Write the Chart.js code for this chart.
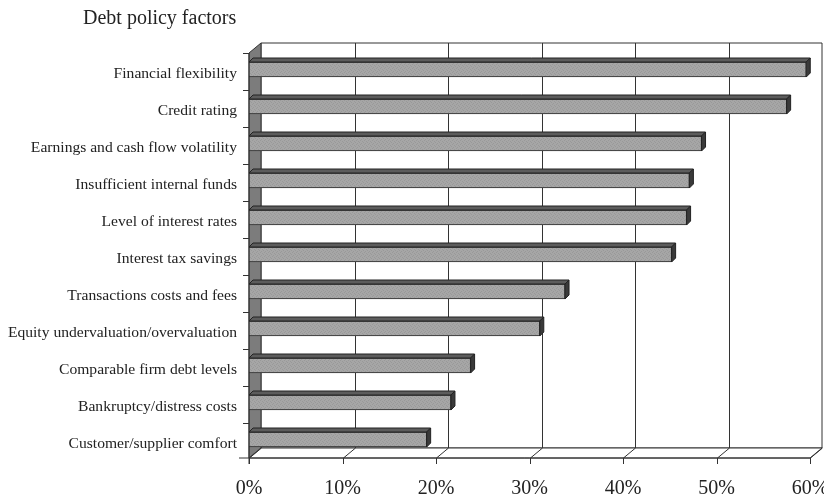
<!DOCTYPE html>
<html>
<head>
<meta charset="utf-8">
<script src="https://cdn.jsdelivr.net/npm/chart.js@4"></script>
<style>
	html, body { margin: 0; padding: 0; background: #fff; }
	#wrap { position: relative; width: 824px; height: 496px; }
	#title {
		position: absolute; left: 83px; top: 6px;
		font-family: "Liberation Serif", serif; font-size: 20px; color: #222;
	}
</style>
</head>
<body>
<div id="wrap">
	<div id="title">Debt policy factors</div>
	<canvas id="chart-debt-factors" width="824" height="496"></canvas>
</div>
<script>
// Data
const FACTORS = [
	"Financial flexibility",
	"Credit rating",
	"Earnings and cash flow volatility",
	"Insufficient internal funds",
	"Level of interest rates",
	"Interest tax savings",
	"Transactions costs and fees",
	"Equity undervaluation/overvaluation",
	"Comparable firm debt levels",
	"Bankruptcy/distress costs",
	"Customer/supplier comfort",
];
const SHARES = [59.6, 57.5, 48.4, 47.1, 46.8, 45.2, 33.8, 31.1, 23.7, 21.6, 19.0];
const TICK_VALUES = [0, 10, 20, 30, 40, 50, 60];

const LINE = "#333";
const WALL_DX = 12, WALL_DY = -10;
const BAR_DX = 4, BAR_DY = -4;

// Stipple fill for the bar fronts
const stipple = (() => {
	const c = document.createElement("canvas");
	c.width = 4; c.height = 4;
	const g = c.getContext("2d");
	g.fillStyle = "#a6a6a6"; g.fillRect(0, 0, 4, 4);
	g.fillStyle = "#999999";
	g.fillRect(0, 0, 1, 1); g.fillRect(2, 1, 1, 1); g.fillRect(3, 2, 1, 1); g.fillRect(1, 3, 1, 1);
	return g.createPattern(c, "repeat");
})();

const poly = (ctx, pts, fill) => {
	ctx.beginPath();
	ctx.moveTo(pts[0][0], pts[0][1]);
	for (let i = 1; i < pts.length; i++) ctx.lineTo(pts[i][0], pts[i][1]);
	ctx.closePath();
	if (fill) { ctx.fillStyle = fill; ctx.fill(); }
	ctx.stroke();
};
const line = (ctx, x1, y1, x2, y2) => {
	ctx.beginPath();
	ctx.moveTo(x1, y1);
	ctx.lineTo(x2, y2);
	ctx.stroke();
};

// Walls, floor and axes of the 3D box
const box3d = {
	id: "box3d",
	beforeDatasetsDraw(chart) {
		const { ctx, chartArea, scales } = chart;
		const x = scales.x;
		const L = x.getPixelForValue(TICK_VALUES[0]);
		const R = x.getPixelForValue(TICK_VALUES[TICK_VALUES.length - 1]);
		const T = chartArea.top + 2;
		const B = chartArea.bottom;
		ctx.save();
		ctx.strokeStyle = LINE;
		ctx.lineWidth = 1;
		// back wall
		poly(ctx, [[L + WALL_DX, T + WALL_DY], [R + WALL_DX, T + WALL_DY], [R + WALL_DX, B + WALL_DY], [L + WALL_DX, B + WALL_DY]], "#fff");
		TICK_VALUES.slice(1, -1).forEach((v) => {
			const px = Math.round(x.getPixelForValue(v)) + 0.5 + WALL_DX;
			line(ctx, px, T + WALL_DY, px, B + WALL_DY);
		});
		// left wall
		poly(ctx, [[L, T], [L + WALL_DX, T + WALL_DY], [L + WALL_DX, B + WALL_DY], [L, B]], "#7c7c7c");
		// floor
		poly(ctx, [[L, B], [R, B], [R + WALL_DX, B + WALL_DY], [L + WALL_DX, B + WALL_DY]], "#fff");
		TICK_VALUES.forEach((v) => {
			const px = Math.round(x.getPixelForValue(v)) + 0.5;
			line(ctx, px, B, px + WALL_DX, B + WALL_DY);
			line(ctx, px, B, px, B + 6);
		});
		// front axes
		line(ctx, L, T, L, B + 6);
		line(ctx, L - 10, B, R, B);
		const band = (chartArea.bottom - chartArea.top) / FACTORS.length;
		for (let i = 0; i < FACTORS.length; i++) {
			const py = Math.round(chartArea.top + i * band + 2) + 0.5;
			line(ctx, L - 6, py, L, py);
		}
		ctx.restore();
	},
	afterDatasetsDraw(chart) {
		const { ctx } = chart;
		const meta = chart.getDatasetMeta(0);
		ctx.save();
		ctx.strokeStyle = "#222";
		ctx.lineWidth = 1;
		meta.data.forEach((bar) => {
			const { x, y, base, height } = bar.getProps(["x", "y", "base", "height"], true);
			const top = y - height / 2;
			const bot = y + height / 2;
			// top face
			poly(ctx, [[base, top], [x, top], [x + BAR_DX, top + BAR_DY], [base + BAR_DX, top + BAR_DY]], "#5c5c5c");
			// end face
			poly(ctx, [[x, top], [x + BAR_DX, top + BAR_DY], [x + BAR_DX, bot + BAR_DY], [x, bot]], "#3a3a3a");
		});
		ctx.restore();
	},
};

const CHART_DATA = {
	labels: FACTORS,
	datasets: [
		{
			label: "Share of CFOs",
			data: SHARES,
			backgroundColor: stipple,
			borderColor: "#2a2a2a",
			borderWidth: 1,
			borderSkipped: false,
			barThickness: 15,
		},
	],
};

const CHART_CONFIG = {
	type: "bar",
	data: CHART_DATA,
	options: {
		indexAxis: "y",
		responsive: false,
		animation: false,
		devicePixelRatio: 1,
		layout: {
			padding: { top: 51, right: 14, left: 0, bottom: 0 },
		},
		scales: {
			x: {
				min: TICK_VALUES[0],
				max: TICK_VALUES[TICK_VALUES.length - 1],
				border: { display: false },
				grid: { display: false, drawTicks: false },
				afterFit: (scale) => {
					scale.height = 38;
					scale.paddingLeft = 0;
					scale.paddingRight = 0;
				},
				afterBuildTicks: (scale) => { scale.ticks = TICK_VALUES.map((v) => ({ value: v })); },
				ticks: {
					padding: 19,
					color: "#222",
					maxRotation: 0,
					font: { family: "Liberation Serif", size: 20 },
					callback: (v) => v + "%",
				},
			},
			y: {
				border: { display: false },
				grid: { display: false, drawTicks: false },
				afterFit: (scale) => {
					scale.width = 249;
					scale.paddingTop = 0;
					scale.paddingBottom = 0;
				},
				ticks: {
					padding: 12,
					labelOffset: 4,
					color: "#222",
					font: { family: "Liberation Serif", size: 15.6 },
				},
			},
		},
		plugins: {
			legend: { display: false },
			tooltip: { enabled: false },
		},
	},
	plugins: [box3d],
};

new Chart(document.getElementById("chart-debt-factors"), CHART_CONFIG);
</script>
</body>
</html>
